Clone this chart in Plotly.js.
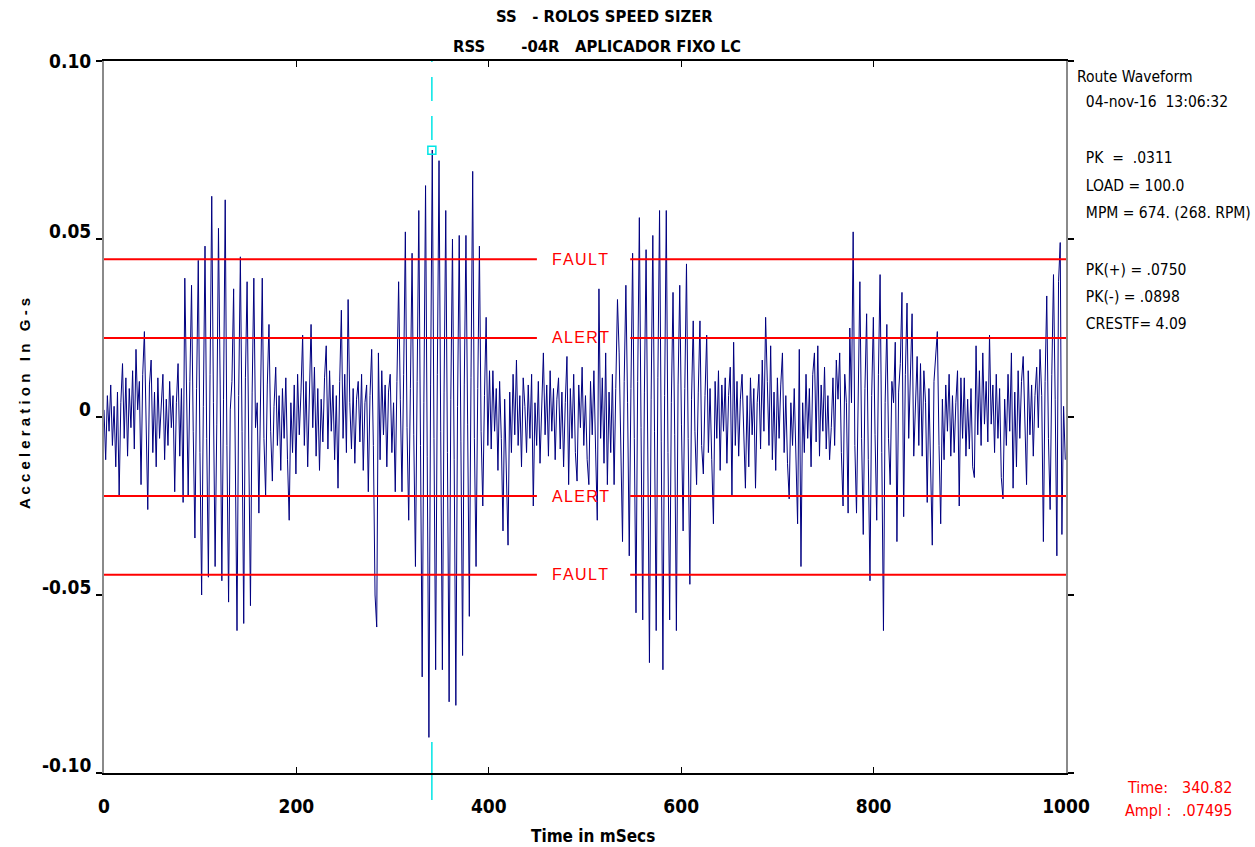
<!DOCTYPE html>
<html>
<head>
<meta charset="utf-8">
<script src="https://cdn.plot.ly/plotly-3.0.1.min.js"></script>
<style>html,body{margin:0;padding:0;background:#fff;}#chart{width:1255px;height:847px;}</style>
</head>
<body>
<div id="chart"></div>
<script>
// ---- data ----
const sampleInterval_ms = 1.75;   // sampling step of the route waveform
// acceleration in G-s, one value per sample
const accelG = [
 .002,-.012,.006,-.004,.009,-.008,.003,-.014,.007,-.022,.004,.015,-.006,.011,-.011,.008,-.003,.013,-.009,.019,.002,.010,-.019,.012,.024,-.004,-.026,.009,.016,-.010,.007,-.014,.011,-.006,.004,.012,-.012,.005,-.008,.010,-.003,.006,-.021,.004,.015,-.011,.008,-.024,
 .039,.006,-.022,.010,.037,-.004,-.034,.008,.044,-.010,-.050,.003,.048,-.006,-.045,.012,.062,.004,-.042,-.002,.053,.009,-.046,.005,.061,-.008,-.052,.002,.010,.036,-.012,-.060,.006,.045,-.004,-.058,.011,.038,-.009,-.053,.007,.039,-.003,.004,-.027,.012,.039,-.006,-.022,.009,.026,-.004,-.018,.003,.014,-.008,.006,-.015,
 .008,-.006,.011,-.012,-.029,.004,-.010,.009,-.016,.012,-.005,.007,.023,-.008,.010,-.014,.006,.026,-.003,.014,-.011,.008,-.015,.005,-.007,.011,.020,-.009,.013,-.004,.009,-.012,.006,-.020,.010,.030,-.006,.012,-.010,.033,.004,-.009,.008,-.013,.005,.010,-.007,.012,-.015,.004,.009,-.021,.006,.019,-.008,-.050,-.059,.018,-.012,.013,-.005,.009,-.014,.007,.012,-.010,.004,-.021,
 .010,.038,.005,-.021,.012,.052,-.003,-.029,.008,.046,-.005,-.042,.010,.058,-.008,-.073,.004,.065,-.011,-.090,.009,.075,-.006,-.071,.012,.072,-.004,-.071,.007,.058,-.010,-.080,.005,.050,-.012,-.081,.003,.051,-.007,-.067,.009,.051,-.002,-.056,.011,.069,-.006,-.042,.008,.048,-.004,-.025,.006,.028,-.008,.013,
 -.009,.013,-.004,.008,-.015,.010,-.006,-.032,.005,-.012,-.036,.007,-.010,.012,-.005,.016,-.008,.006,-.014,.011,.003,-.010,.009,-.006,.012,-.025,.004,-.008,.010,-.013,.006,.018,-.005,.009,-.011,.013,-.004,.008,-.012,.005,.011,-.009,.007,-.014,.004,.017,-.019,.008,-.006,.012,-.010,-.018,.009,-.003,.014,-.008,.006,-.012,-.019,.010,-.005,.013,-.009,-.029,.036,-.006,.011,-.013,.018,-.019,.007,-.010,.012,-.019,.008,.033,.018,-.012,-.035,.010,
 .037,.004,-.039,.008,.046,-.006,-.055,.010,.056,-.003,-.057,.007,.047,-.009,-.069,.005,.051,-.004,-.060,.011,.058,-.007,-.071,.006,.058,-.010,-.057,.004,.035,-.005,-.060,.009,.037,-.002,-.032,.008,.043,-.006,-.047,.005,.027,-.004,-.019,.007,.027,-.008,-.016,.006,.023,-.010,
 .008,-.012,-.030,.010,-.006,.013,-.015,.009,-.004,.011,-.013,.006,.014,-.022,.021,-.008,.010,-.011,.005,.012,-.007,-.020,.006,-.014,.011,-.005,.008,-.020,.004,.012,-.009,.016,-.004,.028,.010,-.008,.020,-.012,.007,-.015,.011,-.006,.009,.018,-.010,.006,-.013,-.023,.004,-.008,.008,-.012,-.030,.019,-.042,.004,-.010,.012,-.006,.008,-.014,.012,.018,-.007,.020,-.011,.009,-.004,.014,-.009,.006,-.012,-.003,.011,-.008,.016,.005,.018,-.010,-.025,.012,.004,-.027,
 .025,.004,.052,-.008,-.027,.010,.038,-.006,-.033,.008,.029,-.012,-.046,.006,.028,-.005,-.029,.012,.040,-.010,-.060,.004,.026,-.006,-.019,.010,.004,.021,-.035,.007,.015,.035,-.028,.012,.032,
 -.006,.010,.029,-.011,.006,.017,-.008,.015,-.011,.013,.004,-.024,.008,-.014,-.036,.010,.019,.024,-.008,-.030,.005,-.012,.009,-.004,.012,-.011,.006,-.010,.004,.013,-.025,.011,-.006,.011,-.011,.005,-.009,.008,-.014,-.017,.020,-.005,.013,-.008,.018,-.002,.010,-.007,.023,-.002,.009,-.010,.012,-.006,.008,-.017,-.023,.005,-.008,.012,-.004,.018,-.020,.007,-.014,.013,-.006,.010,.017,-.006,-.019,.013,-.005,.009,-.011,.006,.014,-.003,.019,.006,-.035,.010,.034,-.006,-.026,.012,.040,.005,-.039,.038,.049,-.033,.003,-.012
];
const timeMs = accelG.map((_, i) => i * sampleInterval_ms);

const limitNames  = ['FAULT', 'ALERT', 'ALERT', 'FAULT'];
const limitValues = [0.0443, 0.0222, -0.0222, -0.0443];

const xTickVals = [0, 200, 400, 600, 800, 1000];
const xTickText = ['0', '200', '400', '600', '800', '1000'];
const yTickVals = [0.10, 0.05, 0, -0.05, -0.10];
const yTickText = ['0.10', '0.05', '0', '-0.05', '-0.10'];

const cursorTime = 340.82;
const cursorAmpl = 0.07495;

const titleLines = ['SS\u00a0\u00a0\u00a0- ROLOS SPEED SIZER', 'RSS\u00a0\u00a0\u00a0\u00a0\u00a0\u00a0\u00a0-04R\u00a0\u00a0\u00a0APLICADOR FIXO LC'];
const infoLines = [
  'Route Waveform',
  '\u00a0\u00a004-nov-16\u00a0\u00a013:06:32',
  '\u00a0\u00a0PK\u00a0\u00a0=\u00a0\u00a0.0311',
  '\u00a0\u00a0LOAD = 100.0',
  '\u00a0\u00a0MPM = 674. (268. RPM)',
  '\u00a0\u00a0PK(+) = .0750',
  '\u00a0\u00a0PK(-) = .0898',
  '\u00a0\u00a0CRESTF= 4.09'
];

// ---- layout helpers (pixel placement of texts) ----
const W = 1255, H = 847, L = 104, R = 1066, T = 61, B = 773;
const px2x = p => (p - L) / (R - L);
const py2y = p => (B - p) / (B - T);

const NARROW = '"Liberation Sans Narrow", "Arial Narrow", "DejaVu Sans Condensed", "Liberation Sans", sans-serif';
const SANS = '"Liberation Sans", Arial, sans-serif';

const traces = [];
traces.push({
  x: timeMs, y: accelG, type: 'scatter', mode: 'lines',
  line: {color: '#000080', width: 1}, hoverinfo: 'skip'
});
// limit lines, broken where the labels sit
const gapStart = 450, gapEnd = 547, labelX = 495;
limitValues.forEach(v => {
  traces.push({
    x: [0, gapStart, null, gapEnd, 1000], y: [v, v, null, v, v],
    type: 'scatter', mode: 'lines', line: {color: '#ff0000', width: 2}, hoverinfo: 'skip'
  });
});
// cursor marker
traces.push({
  x: [cursorTime], y: [cursorAmpl], type: 'scatter', mode: 'markers',
  marker: {symbol: 'square-open', size: 8, color: '#00e5e5', line: {width: 1.5, color: '#00e5e5'}},
  hoverinfo: 'skip'
});

const annotations = [];
const yInfoPx = [77, 102, 158, 186, 213, 270, 297, 324];
infoLines.forEach((t, i) => annotations.push({
  xref: 'paper', yref: 'paper', x: px2x(1075), y: py2y(yInfoPx[i]),
  xanchor: 'left', yanchor: 'middle', showarrow: false, text: t,
  font: {family: NARROW, size: 15.5, color: '#000'}
}));
annotations.push({xref: 'paper', yref: 'paper', x: px2x(604), y: py2y(17), xanchor: 'center', yanchor: 'middle',
  showarrow: false, text: titleLines[0], font: {family: NARROW, size: 16.5, weight: 'bold', color: '#000'}});
annotations.push({xref: 'paper', yref: 'paper', x: px2x(597), y: py2y(46), xanchor: 'center', yanchor: 'middle',
  showarrow: false, text: titleLines[1], font: {family: NARROW, size: 16.5, weight: 'bold', color: '#000'}});
annotations.push({xref: 'paper', yref: 'paper', x: px2x(593), y: py2y(836), xanchor: 'center', yanchor: 'middle',
  showarrow: false, text: 'Time in mSecs', font: {family: NARROW, size: 17, weight: 'bold', color: '#000'}});
annotations.push({xref: 'paper', yref: 'paper', x: px2x(24), y: py2y(404), xanchor: 'center', yanchor: 'middle',
  textangle: -90, showarrow: false, text: 'A c c e l e r a t i o n\u00a0\u00a0 I n\u00a0\u00a0 G - s',
  font: {family: SANS, size: 15, weight: 'bold', color: '#000'}});
// y tick labels (sit a little above their ticks, as in the reference)
yTickVals.forEach((v, i) => annotations.push({
  xref: 'paper', yref: 'y', x: px2x(93), y: v, xanchor: 'right', yanchor: 'middle',
  yshift: i === 0 ? 0 : 8, showarrow: false, text: yTickText[i],
  font: {family: NARROW, size: 19, weight: 'bold', color: '#000'}
}));
limitValues.forEach((v, i) => annotations.push({
  x: labelX, y: v, xref: 'x', yref: 'y', xanchor: 'center', yanchor: 'middle', showarrow: false,
  text: limitNames[i].split('').join('\u200a'), font: {family: SANS, size: 16, color: '#ff0000'}
}));
// cursor readout
const readFont = {family: NARROW, size: 16, color: '#ff0000'};
annotations.push({xref: 'paper', yref: 'paper', x: px2x(1126), y: py2y(788), xanchor: 'left', yanchor: 'middle',
  showarrow: false, borderpad: 0, text: 'Time:', font: readFont});
annotations.push({xref: 'paper', yref: 'paper', x: px2x(1181), y: py2y(788), xanchor: 'left', yanchor: 'middle',
  showarrow: false, borderpad: 0, text: cursorTime.toFixed(2), font: readFont});
annotations.push({xref: 'paper', yref: 'paper', x: px2x(1124), y: py2y(810), xanchor: 'left', yanchor: 'middle',
  showarrow: false, borderpad: 0, text: 'Ampl :', font: readFont});
annotations.push({xref: 'paper', yref: 'paper', x: px2x(1181), y: py2y(810), xanchor: 'left', yanchor: 'middle',
  showarrow: false, borderpad: 0, text: cursorAmpl.toFixed(5).replace(/^0/, ''), font: readFont});

const cursorLine = {color: '#00e5e5', width: 1.5};
const layout = {
  width: W, height: H,
  margin: {l: L, r: W - R, t: T, b: H - B, pad: 0},
  paper_bgcolor: '#fff', plot_bgcolor: '#fff', showlegend: false,
  xaxis: {
    range: [0, 1000], tickvals: xTickVals, ticktext: xTickText,
    ticks: 'inside', ticklen: 6, tickwidth: 1, tickcolor: '#000',
    showline: true, linecolor: '#000', linewidth: 2, mirror: 'ticks',
    showgrid: false, zeroline: false, ticklabelstandoff: 15,
    tickfont: {family: NARROW, size: 19, weight: 'bold', color: '#000'}
  },
  yaxis: {
    range: [-0.10, 0.10], tickvals: yTickVals, showticklabels: false,
    ticks: 'outside', ticklen: 6, tickwidth: 1.5, tickcolor: '#000',
    showline: true, linecolor: '#8a8a8a', linewidth: 2, mirror: 'ticks',
    showgrid: false, zeroline: false
  },
  shapes: [
    {type: 'line', layer: 'below', xref: 'x', yref: 'paper', x0: cursorTime, x1: cursorTime,
     y0: py2y(140), y1: 1, line: Object.assign({dash: '24px,15px'}, cursorLine)},
    {type: 'line', layer: 'below', xref: 'x', yref: 'paper', x0: cursorTime, x1: cursorTime,
     y0: py2y(800), y1: py2y(742), line: cursorLine}
  ],
  annotations: annotations
};

Plotly.newPlot('chart', traces, layout, {staticPlot: true, displayModeBar: false});
</script>
</body>
</html>
